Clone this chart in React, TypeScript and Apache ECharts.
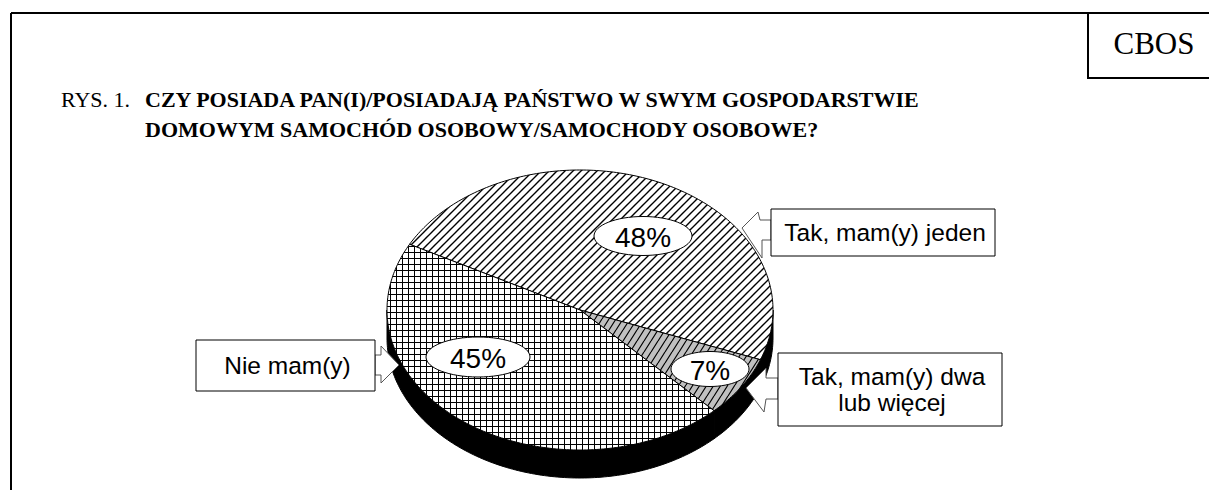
import React, { useEffect, useRef } from 'react';
import * as echarts from 'echarts';

// ---- data ----
const categories = ['Tak, mam(y) jeden', 'Tak, mam(y) dwa lub więcej', 'Nie mam(y)'];
const values = [48, 7, 45];
const percentLabels = ['48%', '7%', '45%'];
const calloutTexts = ['Tak, mam(y) jeden', 'Tak, mam(y) dwa\nlub więcej', 'Nie mam(y)'];
const titlePrefix = 'RYS. 1.';
const titleLine1 = 'CZY POSIADA PAN(I)/POSIADAJĄ PAŃSTWO W SWYM GOSPODARSTWIE';
const titleLine2 = 'DOMOWYM SAMOCHÓD OSOBOWY/SAMOCHODY OSOBOWE?';
const brand = 'CBOS';

// ---- layout ----
const PIE = { cx: 580, cy: 310, rx: 193, ry: 140, depth: 28, start: 208 };
const LABEL_POS = [
  [643, 236, 49, 19.5],
  [710, 369, 39, 17.5],
  [478, 357, 52, 20],
];
const BOXES = [
  [771, 209, 224, 47],
  [778, 353, 224, 73],
  [196, 340, 179, 51],
];
const ARROWS = [
  [[771, 220], [760, 220], [758, 212], [742, 228], [762, 258], [762, 240], [771, 240]],
  [[778, 378], [766, 378], [766, 368], [746, 388], [764, 412], [766, 399], [778, 399]],
  [[375, 355], [381, 355], [381, 346], [399, 365], [381, 383], [381, 375], [375, 375]],
];
const SERIF = '"Liberation Serif", "Times New Roman", "DejaVu Serif", serif';
const SANS = '"Liberation Sans", Arial, sans-serif';

function makePattern(kind: string) {
  const c = document.createElement('canvas');
  let w = 8, h = 8;
  if (kind === 'grid') { w = 6; h = 6; }
  if (kind === 'gray') { w = 7; h = 11; }
  c.width = w; c.height = h;
  const ctx = c.getContext('2d')!;
  if (kind === 'diag') {
    ctx.fillStyle = '#fff'; ctx.fillRect(0, 0, w, h);
    ctx.strokeStyle = '#000'; ctx.lineWidth = 1.4;
    ctx.beginPath();
    for (const o of [-w, 0, w]) { ctx.moveTo(o - 1, h + 1); ctx.lineTo(o + w + 1, -1); }
    ctx.stroke();
  } else if (kind === 'grid') {
    ctx.fillStyle = '#fff'; ctx.fillRect(0, 0, w, h);
    ctx.fillStyle = '#000';
    ctx.fillRect(0, 0, w, 1); ctx.fillRect(0, 0, 1, h);
  } else {
    ctx.fillStyle = '#c0c0c0'; ctx.fillRect(0, 0, w, h);
    ctx.strokeStyle = '#000'; ctx.lineWidth = 1.2;
    ctx.beginPath();
    for (const o of [-w, 0, w]) { ctx.moveTo(o, h); ctx.lineTo(o + w, 0); }
    ctx.stroke();
  }
  return { image: c, repeat: 'repeat', imageWidth: w, imageHeight: h } as any;
}

export default function App() {
  const ref = useRef<HTMLDivElement>(null);
  useEffect(() => {
    const chart = echarts.init(ref.current!, null, { renderer: 'svg' });
    const patterns = [makePattern('diag'), makePattern('gray'), makePattern('grid')];
    const total = values.reduce((a, b) => a + b, 0);
    const { cx, cy, rx, ry, depth, start } = PIE;
    const rim = (a: number, dy = 0) => [cx + rx * Math.cos(a), cy + ry * Math.sin(a) + dy];

    const renderItem = (params: any, api: any) => {
      const i = params.dataIndex;
      let acc = 0;
      for (let j = 0; j < i; j++) acc += values[j];
      const v = api.value(0);
      const a0 = ((start + (acc / total) * 360) * Math.PI) / 180;
      const a1 = ((start + ((acc + v) / total) * 360) * Math.PI) / 180;
      const children: any[] = [];
      for (let m = 0; m < 3; m++) {
        const lo = Math.max(a0, 2 * Math.PI * m);
        const hi = Math.min(a1, 2 * Math.PI * m + Math.PI);
        if (hi > lo) {
          const pts: number[][] = [];
          const n = Math.max(2, Math.ceil(((hi - lo) * 180) / Math.PI));
          for (let k = 0; k <= n; k++) pts.push(rim(lo + ((hi - lo) * k) / n));
          for (let k = n; k >= 0; k--) pts.push(rim(lo + ((hi - lo) * k) / n, depth));
          children.push({ type: 'polygon', shape: { points: pts }, style: { fill: '#000', stroke: '#000', lineWidth: 1 } });
        }
      }
      const top: number[][] = [[cx, cy]];
      const n = Math.max(2, Math.ceil(((a1 - a0) * 180) / Math.PI));
      for (let k = 0; k <= n; k++) top.push(rim(a0 + ((a1 - a0) * k) / n));
      children.push({ type: 'polygon', shape: { points: top }, style: { fill: patterns[i], stroke: '#000', lineWidth: 1 } });
      return { type: 'group', children };
    };

    const graphics: any[] = [
      { type: 'line', shape: { x1: 11, y1: 13, x2: 11, y2: 490 }, style: { stroke: '#000', lineWidth: 2 } },
      { type: 'line', shape: { x1: 11, y1: 13, x2: 1209, y2: 13 }, style: { stroke: '#000', lineWidth: 2 } },
      { type: 'polyline', shape: { points: [[1088, 13], [1088, 78], [1209, 78]] }, style: { stroke: '#000', lineWidth: 2, fill: 'none' } },
      { type: 'text', x: 1154, y: 43, style: { text: brand, font: `31px ${SERIF}`, fill: '#000', textAlign: 'center', textVerticalAlign: 'middle' } },
      { type: 'text', x: 61, y: 99, style: { text: titlePrefix, font: `22px ${SERIF}`, fill: '#000', textAlign: 'left', textVerticalAlign: 'middle' } },
      { type: 'text', x: 145, y: 99, style: { text: titleLine1, font: `bold 22px ${SERIF}`, fill: '#000', textAlign: 'left', textVerticalAlign: 'middle' } },
      { type: 'text', x: 145, y: 129, style: { text: titleLine2, font: `bold 22px ${SERIF}`, fill: '#000', textAlign: 'left', textVerticalAlign: 'middle' } },
    ];
    percentLabels.forEach((t, i) => {
      const [x, y, erx, ery] = LABEL_POS[i];
      graphics.push({ type: 'ellipse', z: 100, shape: { cx: x, cy: y, rx: erx, ry: ery }, style: { fill: '#fff', stroke: '#000', lineWidth: 1 } });
      graphics.push({ type: 'text', z: 101, x, y: y + 1, style: { text: t, font: `28px ${SANS}`, fill: '#000', textAlign: 'center', textVerticalAlign: 'middle' } });
    });
    calloutTexts.forEach((t, i) => {
      const [x, y, w, h] = BOXES[i];
      graphics.push({ type: 'polygon', z: 100, shape: { points: ARROWS[i] }, style: { fill: '#fff', stroke: '#555', lineWidth: 1 } });
      graphics.push({ type: 'rect', z: 100, shape: { x, y, width: w, height: h }, style: { fill: '#fff', stroke: '#000', lineWidth: 1 } });
      graphics.push({ type: 'text', z: 101, x: x + w / 2 + 2, y: y + h / 2, style: { text: t, font: `24.5px ${SANS}`, lineHeight: 26, fill: '#000', textAlign: 'center', textVerticalAlign: 'middle' } });
    });

    chart.setOption({
      animation: false,
      backgroundColor: '#fff',
      series: [
        {
          type: 'custom',
          coordinateSystem: 'none',
          name: 'samochody',
          data: values.map((v, i) => ({ name: categories[i], value: [v] })),
          renderItem,
          silent: true,
        },
      ],
      graphic: graphics,
    });
    return () => chart.dispose();
  }, []);
  return <div ref={ref} style={{ position: 'fixed', left: 0, top: 0, width: 1209, height: 490 }} />;
}
